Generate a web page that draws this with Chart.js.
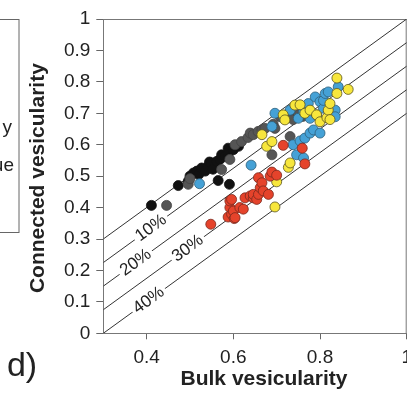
<!DOCTYPE html>
<html>
<head>
<meta charset="utf-8">
<script src="https://cdn.jsdelivr.net/npm/chart.js@4"></script>
<style>
  html, body { margin: 0; padding: 0; background: #fff; overflow: hidden; }
  #wrap { position: relative; width: 430px; height: 396px; }
</style>
</head>
<body>
<div id="wrap"><canvas id="vesChart"></canvas></div>
<script>
// bulk vs connected vesicularity, one array of [bulk, connected] per sample group
const bulkTicks = [0.4, 0.6, 0.8, 1];
const isoOffsets = [0, 0.075, 0.15, 0.225, 0.3];
const isoNames = ['', '10%', '20%', '30%', '40%'];

const blackPts = [
  [0.411, 0.407], [0.473, 0.470], [0.496, 0.484], [0.500, 0.500], [0.508, 0.510],
  [0.516, 0.516], [0.520, 0.505], [0.527, 0.526], [0.535, 0.516], [0.542, 0.531],
  [0.545, 0.545], [0.550, 0.542], [0.553, 0.522], [0.562, 0.547], [0.569, 0.553],
  [0.573, 0.568], [0.581, 0.563], [0.588, 0.568], [0.588, 0.589], [0.600, 0.584],
  [0.612, 0.595], [0.565, 0.486], [0.591, 0.474]
];
const greyPts = [
  [0.446, 0.407], [0.496, 0.474], [0.500, 0.492], [0.573, 0.521], [0.592, 0.553],
  [0.604, 0.600], [0.619, 0.610], [0.634, 0.623], [0.639, 0.637], [0.646, 0.632],
  [0.657, 0.642], [0.666, 0.647], [0.673, 0.652], [0.689, 0.568], [0.692, 0.665],
  [0.696, 0.652], [0.708, 0.689], [0.723, 0.684], [0.728, 0.700], [0.731, 0.626],
  [0.738, 0.680], [0.750, 0.695], [0.760, 0.690]
];
const bluePts = [
  [0.522, 0.476], [0.641, 0.535], [0.689, 0.658], [0.696, 0.700], [0.717, 0.683],
  [0.731, 0.710], [0.738, 0.600], [0.746, 0.568], [0.750, 0.684], [0.754, 0.612],
  [0.762, 0.558], [0.762, 0.705], [0.765, 0.621], [0.773, 0.731], [0.777, 0.637],
  [0.777, 0.684], [0.785, 0.647], [0.789, 0.752], [0.792, 0.695], [0.800, 0.637],
  [0.800, 0.737], [0.808, 0.716], [0.808, 0.741], [0.812, 0.763], [0.819, 0.768],
  [0.823, 0.705], [0.835, 0.710], [0.835, 0.689], [0.842, 0.784]
];
const yellowPts = [
  [0.666, 0.632], [0.677, 0.595], [0.689, 0.610], [0.696, 0.402], [0.700, 0.482],
  [0.715, 0.695], [0.719, 0.679], [0.727, 0.528], [0.731, 0.542], [0.742, 0.726],
  [0.754, 0.727], [0.765, 0.700], [0.777, 0.710], [0.792, 0.695], [0.800, 0.673],
  [0.816, 0.686], [0.819, 0.710], [0.823, 0.680], [0.823, 0.731], [0.839, 0.763],
  [0.839, 0.812], [0.865, 0.776]
];
const redPts = [
  [0.548, 0.347], [0.588, 0.370], [0.592, 0.400], [0.592, 0.421], [0.596, 0.379],
  [0.596, 0.426], [0.600, 0.389], [0.602, 0.365], [0.604, 0.368], [0.615, 0.400],
  [0.623, 0.395], [0.627, 0.431], [0.639, 0.437], [0.646, 0.431], [0.646, 0.442],
  [0.654, 0.426], [0.658, 0.442], [0.658, 0.495], [0.662, 0.463], [0.666, 0.479],
  [0.669, 0.453], [0.681, 0.442], [0.685, 0.500], [0.689, 0.513], [0.700, 0.503],
  [0.715, 0.598], [0.759, 0.589], [0.765, 0.539]
];

const FONT = '"Liberation Sans", Arial, Helvetica, sans-serif';
const toXY = pts => pts.map(p => ({ x: p[0], y: p[1] }));

function pointSet(pts, fill, edge, order) {
  return {
    type: 'scatter',
    data: toXY(pts),
    backgroundColor: fill,
    borderColor: edge,
    borderWidth: 0.8,
    pointRadius: 5,
    order: order
  };
}

// reference lines: connected = bulk - offset
const lineSets = isoOffsets.map(c => ({
  type: 'line',
  data: [{ x: 0.3, y: 0.3 - c }, { x: 1, y: 1 - c }],
  borderColor: '#333',
  borderWidth: 1,
  pointRadius: 0,
  fill: false,
  order: 10
}));

const labelAt = [null, 0.41, 0.375, 0.495, 0.405];

const decor = {
  id: 'decor',
  beforeDatasetsDraw(chart) {
    const { ctx, chartArea: a } = chart;
    ctx.save();
    ctx.strokeStyle = '#777';
    ctx.lineWidth = 1;
    ctx.beginPath();
    ctx.moveTo(a.left, a.top + 0.5);
    ctx.lineTo(a.right, a.top + 0.5);
    ctx.moveTo(a.right - 0.5, a.top);
    ctx.lineTo(a.right - 0.5, a.bottom);
    ctx.stroke();
    ctx.restore();
  },
  afterDatasetsDraw(chart) {
    const { ctx } = chart;
    const xs = chart.scales.x, ys = chart.scales.y;
    const ang = Math.atan2(ys.getPixelForValue(1) - ys.getPixelForValue(0),
                           xs.getPixelForValue(1) - xs.getPixelForValue(0));
    ctx.save();
    ctx.font = '17px ' + FONT;
    ctx.textAlign = 'center';
    ctx.textBaseline = 'middle';
    isoNames.forEach((name, i) => {
      if (!name) return;
      const bx = labelAt[i];
      const px = xs.getPixelForValue(bx);
      const py = ys.getPixelForValue(bx - isoOffsets[i]);
      const w = ctx.measureText(name).width;
      ctx.save();
      ctx.translate(px, py);
      ctx.rotate(ang);
      ctx.fillStyle = '#fff';
      ctx.fillRect(-w / 2 - 3, -7, w + 6, 14);
      ctx.fillStyle = '#222';
      ctx.fillText(name, 0, 0);
      ctx.restore();
    });
    ctx.restore();
  },
  afterDraw(chart) {
    const { ctx, chartArea: a } = chart;
    ctx.save();
    ctx.fillStyle = '#222';
    ctx.font = 'bold 21px ' + FONT;
    ctx.textAlign = 'center';
    ctx.textBaseline = 'middle';
    ctx.fillText('Bulk vesicularity', 264, 379);
    ctx.save();
    ctx.translate(38, (a.top + a.bottom) / 2 + 2);
    ctx.rotate(-Math.PI / 2);
    ctx.fillText('Connected vesicularity', 0, 0);
    ctx.restore();

    ctx.font = '34px ' + FONT;
    ctx.fillText('d)', 22, 367);

    // edge of the neighbouring legend box
    ctx.strokeStyle = '#666';
    ctx.lineWidth = 1;
    ctx.strokeRect(-2, 19.5, 21, 213);
    ctx.font = '19px ' + FONT;
    ctx.textAlign = 'right';
    ctx.textBaseline = 'alphabetic';
    ctx.fillText('y', 12, 133);
    ctx.fillText('ue', 14, 171);
    ctx.restore();
  }
};

const fmt = v => String(+Number(v).toFixed(1));

new Chart(document.getElementById('vesChart'), {
  type: 'scatter',
  data: {
    datasets: [
      pointSet(redPts, '#e5432b', '#7a2a1e', 1),
      pointSet(yellowPts, '#f7e63c', '#5b5420', 2),
      pointSet(bluePts, '#45a1d6', '#2f5f7a', 3),
      pointSet(greyPts, '#555555', '#444444', 4),
      pointSet(blackPts, '#111111', '#111111', 5),
      ...lineSets
    ]
  },
  options: {
    responsive: true,
    maintainAspectRatio: false,
    animation: false,
    events: [],
    layout: { padding: { top: 19, right: 23.3, bottom: 0, left: 0 } },
    plugins: { legend: { display: false }, tooltip: { enabled: false } },
    scales: {
      x: {
        type: 'linear',
        min: 0.3,
        max: 1,
        afterBuildTicks: s => { s.ticks = bulkTicks.map(v => ({ value: v })); },
        afterFit: s => { s.height = 62.7; },
        grid: { drawOnChartArea: false, color: '#666', tickLength: 6 },
        border: { color: '#777', width: 1 },
        ticks: { callback: fmt, color: '#222', padding: 7, maxRotation: 0,
                 font: { family: FONT, size: 19 } }
      },
      y: {
        min: 0,
        max: 1,
        afterFit: s => { s.width = 103.3; },
        grid: { drawOnChartArea: false, color: '#666', tickLength: 7 },
        border: { color: '#777', width: 1 },
        ticks: { stepSize: 0.1, callback: fmt, color: '#222', padding: 6,
                 font: { family: FONT, size: 19 } }
      }
    }
  },
  plugins: [decor]
});
</script>
</body>
</html>
